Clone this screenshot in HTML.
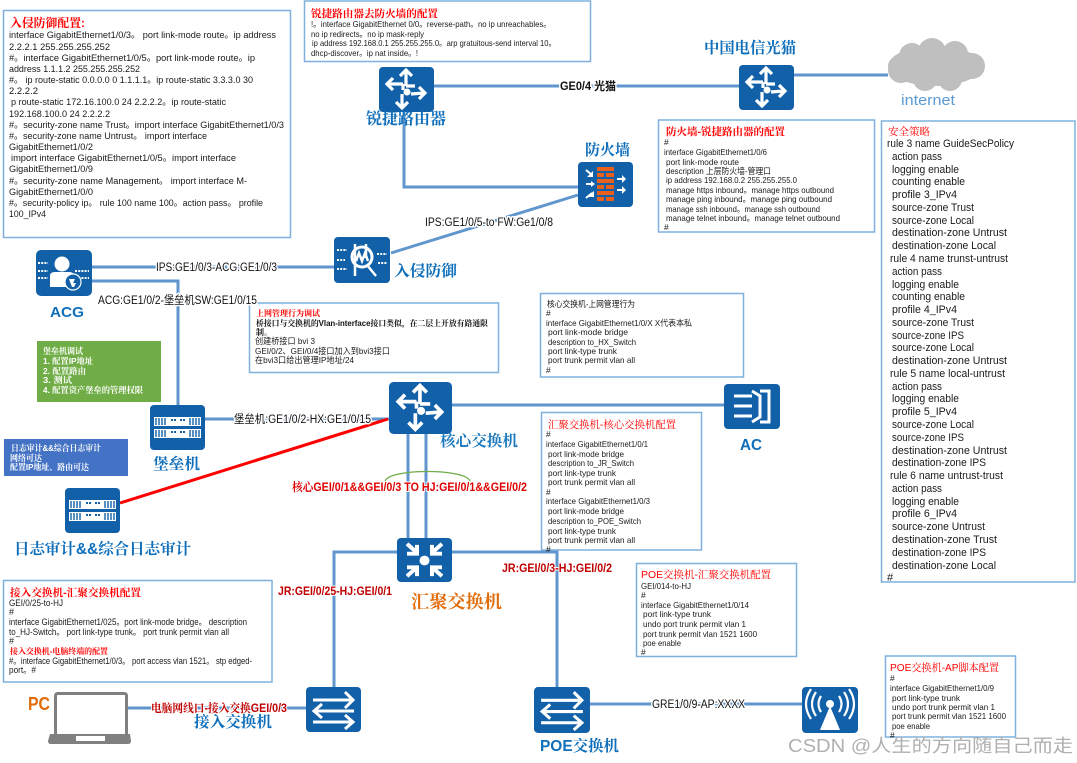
<!DOCTYPE html>
<html><head><meta charset="utf-8"><style>
html,body{margin:0;padding:0;background:#fff;width:1077px;height:763px;overflow:hidden}
svg{display:block;font-family:"Liberation Sans","Noto Sans CJK SC",sans-serif}
.c{font-size:9.5px;fill:#1a1a1a}
.p{font-size:11px;fill:#1a1a1a}
.t{font-family:"Liberation Sans","Noto Serif CJK SC",serif;font-weight:700;fill:#f00;font-size:10.5px}
.n{font-family:"Liberation Sans","Noto Serif CJK SC",serif;font-weight:700;fill:#0f6fbb;font-size:15.5px}
.l{font-size:11.5px;fill:#111;paint-order:stroke;stroke:#fff;stroke-width:3px}
.r{font-size:11.5px;font-weight:700;fill:#c00000;paint-order:stroke;stroke:#fff;stroke-width:2px;font-family:"Liberation Sans","Noto Serif CJK SC",serif}
.b{fill:#fff;stroke:#7fb0de;stroke-width:1.5}
.w{font-size:8.5px;font-weight:700;fill:#fff;font-family:"Liberation Sans","Noto Serif CJK SC",serif}
</style></head><body>
<svg width="1077" height="763" viewBox="0 0 1077 763" xmlns="http://www.w3.org/2000/svg">
<defs>
<symbol id="router" viewBox="0 0 55 45" preserveAspectRatio="none"><rect width="55" height="45" rx="4" fill="#1160a8"/><g fill="none" stroke="#fff" stroke-width="3.2"><path d="M27 19V4M21 9l6-6 6 6M24 17H10M14 11l-6 6 6 6M32 27l13-1M40 20l6 6-6 6M23 27v13M17 35l6 6 6-6"/><path d="M24 17v6M27 19h9" /></g><circle cx="28" cy="25" r="3.5" fill="#fff"/></symbol>
<symbol id="sw" viewBox="0 0 55 45" preserveAspectRatio="none"><rect width="55" height="45" rx="4" fill="#1160a8"/><g fill="none" stroke="#fff" stroke-width="3"><path d="M7 13H47M39 5l8 8-8 8M48 24H9M16 17l-8 7 8 7M7 35H47M39 28l8 7-8 7"/></g></symbol>
<symbol id="hj" viewBox="0 0 55 45" preserveAspectRatio="none"><rect width="55" height="45" rx="4" fill="#1160a8"/><circle cx="27.500" cy="23" r="5" fill="#fff"/><g fill="none" stroke="#fff" stroke-width="4"><path d="M10 6l10 9M20 7v9H10M45 6l-10 9M35 7v9h10M10 39l10-9M10 30h10v9M45 39l-10-9M45 30H35v9"/></g></symbol>
<symbol id="srv" viewBox="0 0 55 45" preserveAspectRatio="none"><rect width="55" height="45" rx="4" fill="#1160a8"/><rect x="4" y="12" width="47" height="9" fill="#fff"/><rect x="4" y="24" width="47" height="9" fill="#fff"/><path d="M6 13v7M9 13v7M12 13v7M15 13v7M40 13v7M43 13v7M46 13v7M49 13v7M6 25v7M9 25v7M12 25v7M15 25v7M40 25v7M43 25v7M46 25v7M49 25v7" stroke="#1160a8" stroke-width="1.4"/><path d="M21 15h5M30 15h5M21 27h5M30 27h5" stroke="#1160a8" stroke-width="2" stroke-dasharray="2 1"/></symbol>
</defs>

<!-- connectors -->
<g fill="none" stroke="#5f96cd" stroke-width="3">
<path d="M434 86H739"/>
<path d="M404 112V187H578"/>
<path d="M391 253L578 195"/>
<path d="M92 267H334"/>
<path d="M92 281H178V405"/>
<path d="M205 419H390"/>
<path d="M452 405H724"/>
<path d="M408 434V538M426 434V538"/>
<path d="M397 552H334V687"/>
<path d="M452 552H557V687"/>
<path d="M127 708H306"/>
<path d="M590 704H802"/>
<path d="M794 75H888"/>
</g>
<path d="M120 503L388 419" stroke="#f00" stroke-width="3" fill="none"/>
<path d="M385 482C385 468 470 468 470 482" stroke="#70ad47" stroke-width="1.3" fill="none"/>

<!-- boxes -->
<rect class="b" x="3.500" y="10.500" width="287" height="227"/>
<rect class="b" x="304.500" y="1" width="286" height="60.500"/>
<rect class="b" x="658.500" y="120" width="216" height="112"/>
<rect class="b" x="881.500" y="121" width="193.500" height="461"/>
<rect class="b" x="249.500" y="303" width="249" height="69.500"/>
<rect class="b" x="540.500" y="293.500" width="203" height="83.500"/>
<rect class="b" x="541.500" y="412.500" width="160" height="137.500"/>
<rect class="b" x="636.500" y="563.500" width="160" height="93"/>
<rect class="b" x="3.500" y="580.500" width="268.500" height="101.500"/>
<rect class="b" x="885.500" y="656" width="130" height="81"/>
<rect x="37" y="341" width="124" height="61" fill="#70ad47"/>
<rect x="4" y="439" width="124" height="37" fill="#4472c4"/>

<!-- icons -->
<use href="#router" x="379" y="67" width="55" height="45"/>
<use href="#router" x="739" y="65" width="55" height="45"/>
<use href="#router" x="389" y="382" width="63" height="52"/>
<use href="#hj" x="397" y="538" width="55" height="44"/>
<use href="#sw" x="306" y="687" width="55" height="45"/>
<use href="#sw" x="534" y="687" width="56" height="46"/>
<use href="#srv" x="150" y="405" width="55" height="45"/>
<use href="#srv" x="65" y="488" width="55" height="45"/>

<!-- firewall -->
<g transform="translate(578,162)"><rect width="55" height="45" rx="4" fill="#1160a8"/>
<g fill="#e8601c"><rect x="19" y="5" width="17" height="4"/><rect x="19" y="11" width="7" height="4"/><rect x="28" y="11" width="8" height="4"/><rect x="19" y="17" width="17" height="4"/><rect x="19" y="23" width="7" height="4"/><rect x="28" y="23" width="8" height="4"/><rect x="19" y="29" width="17" height="4"/><rect x="19" y="35" width="7" height="4"/><rect x="28" y="35" width="8" height="4"/></g>
<g stroke="#fff" stroke-width="2" fill="none"><path d="M8 8l6 5M8 22h6M8 36l6-5M39 17h7M39 28h7"/></g>
<g fill="#fff"><path d="M15 9v6h-6zM13 19l4 3-4 3zM16 35h-6v-1l6-5zM44 13l4 4-4 4zM44 24l4 4-4 4z"/></g></g>

<!-- IPS -->
<g transform="translate(334,237)"><rect width="56" height="46" rx="4" fill="#1160a8"/>
<path d="M3 13h10M3 23h8M3 32h10M43 17h10M44 26h9" stroke="#fff" stroke-width="2" stroke-dasharray="2 1.200"/>
<circle cx="28" cy="20" r="10" fill="none" stroke="#fff" stroke-width="3"/>
<path d="M21 7v32M32 7v14M22 24l3-8 3 8 3-8 3 8M33 28l9 11" stroke="#fff" stroke-width="2.500" fill="none"/></g>

<!-- ACG -->
<g transform="translate(36,250)"><rect width="56" height="46" rx="5" fill="#1160a8"/>
<path d="M2 13h10M2 21h10M2 28h10M39 21h14M39 28h14" stroke="#fff" stroke-width="2" stroke-dasharray="2 1.200"/>
<circle cx="26" cy="14" r="7.500" fill="#fff"/><path d="M14 37V26q0-4 5-4h14q5 0 5 4v11z" fill="#fff"/>
<circle cx="37" cy="32" r="8" fill="#1160a8" stroke="#fff" stroke-width="1.200"/><path d="M33 29h6l-2 4h3l-2 4h-2z" fill="#fff"/></g>

<!-- AC -->
<g transform="translate(724,384)"><rect width="56" height="45" rx="4" fill="#1160a8"/>
<g fill="none" stroke="#fff" stroke-width="3"><path d="M10 12H28M10 22H28M10 32H28M28 7l8 5v21l-8 5M36 7H45V38H36"/></g></g>

<!-- AP -->
<g transform="translate(802,687)"><rect width="56" height="46" rx="4" fill="#1160a8"/>
<circle cx="28" cy="17" r="4" fill="#fff"/><path d="M28 19l-10 24H38z" fill="#fff"/>
<g fill="none" stroke="#fff" stroke-width="2.200"><path d="M19 9q-5 8 0 16M37 9q5 8 0 16M14 5q-8 12 0 24M42 5q8 12 0 24M9 2q-10 15 0 30M47 2q10 15 0 30"/></g></g>

<!-- laptop -->
<rect x="55.500" y="693.500" width="71" height="42" rx="2" fill="#fff" stroke="#808080" stroke-width="3"/>
<path d="M50 734H130L131 741Q131 744 128 744H51Q48 744 48 741Z" fill="#808080"/><rect x="76" y="736" width="29" height="5" fill="#fff"/>

<!-- cloud -->
<g fill="#bfbfbf"><ellipse cx="935" cy="66" rx="47" ry="20"/><circle cx="912" cy="56" r="13"/><circle cx="932" cy="52" r="14"/><circle cx="955" cy="54" r="13"/><circle cx="972" cy="66" r="13"/><circle cx="901" cy="70" r="13"/><circle cx="925" cy="79" r="12"/><circle cx="950" cy="79" r="12"/></g>
<text x="901" y="105" font-size="14.500" fill="#5b9bd5" textLength="54" lengthAdjust="spacingAndGlyphs">internet</text>

<!-- box 1 -->
<text class="t" x="10" y="27" textLength="75" lengthAdjust="spacingAndGlyphs" style="font-size:12px">入侵防御配置:</text>
<g class="c">
<text x="9" y="38" textLength="267" lengthAdjust="spacingAndGlyphs">interface GigabitEthernet1/0/3。 port link-mode route。ip address</text>
<text x="9" y="50" textLength="101" lengthAdjust="spacingAndGlyphs">2.2.2.1 255.255.255.252</text>
<text x="9" y="61" textLength="246" lengthAdjust="spacingAndGlyphs">#。interface GigabitEthernet1/0/5。port link-mode route。ip</text>
<text x="9" y="72" textLength="131" lengthAdjust="spacingAndGlyphs">address 1.1.1.2 255.255.255.252</text>
<text x="9" y="83" textLength="244" lengthAdjust="spacingAndGlyphs">#。 ip route-static 0.0.0.0 0 1.1.1.1。ip route-static 3.3.3.0 30</text>
<text x="9" y="94" textLength="29" lengthAdjust="spacingAndGlyphs">2.2.2.2</text>
<text x="11" y="105" textLength="215" lengthAdjust="spacingAndGlyphs">p route-static 172.16.100.0 24 2.2.2.2。ip route-static</text>
<text x="9" y="117" textLength="101" lengthAdjust="spacingAndGlyphs">192.168.100.0 24 2.2.2.2</text>
<text x="9" y="128" textLength="275" lengthAdjust="spacingAndGlyphs">#。security-zone name Trust。import interface GigabitEthernet1/0/3</text>
<text x="9" y="139" textLength="198" lengthAdjust="spacingAndGlyphs">#。security-zone name Untrust。 import interface</text>
<text x="9" y="150" textLength="84" lengthAdjust="spacingAndGlyphs">GigabitEthernet1/0/2</text>
<text x="11" y="161" textLength="225" lengthAdjust="spacingAndGlyphs">import interface GigabitEthernet1/0/5。import interface</text>
<text x="9" y="172" textLength="84" lengthAdjust="spacingAndGlyphs">GigabitEthernet1/0/9</text>
<text x="9" y="184" textLength="238" lengthAdjust="spacingAndGlyphs">#。security-zone name Management。 import interface M-</text>
<text x="9" y="195" textLength="84" lengthAdjust="spacingAndGlyphs">GigabitEthernet1/0/0</text>
<text x="9" y="206" textLength="254" lengthAdjust="spacingAndGlyphs">#。security-policy ip。 rule 100 name 100。action pass。 profile</text>
<text x="9" y="217" textLength="37" lengthAdjust="spacingAndGlyphs">100_IPv4</text>
</g>

<!-- box 2 -->
<text class="t" x="311" y="17" textLength="127" lengthAdjust="spacingAndGlyphs">锐捷路由器去防火墙的配置</text>
<g class="c" style="font-size:8.500px">
<text x="311" y="27" textLength="240" lengthAdjust="spacingAndGlyphs">!。interface GigabitEthernet 0/0。reverse-path。no ip unreachables。</text>
<text x="311" y="37" textLength="113" lengthAdjust="spacingAndGlyphs">no ip redirects。no ip mask-reply</text>
<text x="312" y="46" textLength="244" lengthAdjust="spacingAndGlyphs">ip address 192.168.0.1 255.255.255.0。arp gratuitous-send interval 10。</text>
<text x="311" y="56" textLength="107" lengthAdjust="spacingAndGlyphs">dhcp-discover。ip nat inside。!</text>
</g>

<!-- FW box -->
<text class="t" x="666" y="135" textLength="119" lengthAdjust="spacingAndGlyphs">防火墙-锐捷路由器的配置</text>
<g class="c" style="font-size:8.500px">
<text x="664" y="145">#</text>
<text x="664" y="155" textLength="103" lengthAdjust="spacingAndGlyphs">interface GigabitEthernet1/0/6</text>
<text x="666" y="165" textLength="73" lengthAdjust="spacingAndGlyphs">port link-mode route</text>
<text x="666" y="174" textLength="105" lengthAdjust="spacingAndGlyphs">description 上层防火墙-管理口</text>
<text x="666" y="183" textLength="131" lengthAdjust="spacingAndGlyphs">ip address 192.168.0.2 255.255.255.0</text>
<text x="666" y="193" textLength="168" lengthAdjust="spacingAndGlyphs">manage https inbound。manage https outbound</text>
<text x="666" y="202" textLength="166" lengthAdjust="spacingAndGlyphs">manage ping inbound。manage ping outbound</text>
<text x="666" y="212" textLength="154" lengthAdjust="spacingAndGlyphs">manage ssh inbound。manage ssh outbound</text>
<text x="666" y="221" textLength="174" lengthAdjust="spacingAndGlyphs">manage telnet inbound。manage telnet outbound</text>
<text x="664" y="230">#</text>
</g>

<!-- policy -->
<text class="t" x="888" y="135" textLength="42" lengthAdjust="spacingAndGlyphs" style="font-weight:400">安全策略</text>
<g class="p">
<text x="887" y="147" textLength="127" lengthAdjust="spacingAndGlyphs">rule 3 name GuideSecPolicy</text>
<text x="892" y="160" textLength="50" lengthAdjust="spacingAndGlyphs">action pass</text>
<text x="892" y="173" textLength="67" lengthAdjust="spacingAndGlyphs">logging enable</text>
<text x="892" y="185" textLength="73" lengthAdjust="spacingAndGlyphs">counting enable</text>
<text x="892" y="198" textLength="65" lengthAdjust="spacingAndGlyphs">profile 3_IPv4</text>
<text x="892" y="211" textLength="82" lengthAdjust="spacingAndGlyphs">source-zone Trust</text>
<text x="892" y="224" textLength="82" lengthAdjust="spacingAndGlyphs">source-zone Local</text>
<text x="892" y="236" textLength="115" lengthAdjust="spacingAndGlyphs">destination-zone Untrust</text>
<text x="892" y="249" textLength="104" lengthAdjust="spacingAndGlyphs">destination-zone Local</text>
<text x="890" y="262" textLength="118" lengthAdjust="spacingAndGlyphs">rule 4 name trunst-untrust</text>
<text x="892" y="275" textLength="50" lengthAdjust="spacingAndGlyphs">action pass</text>
<text x="892" y="288" textLength="67" lengthAdjust="spacingAndGlyphs">logging enable</text>
<text x="892" y="300" textLength="73" lengthAdjust="spacingAndGlyphs">counting enable</text>
<text x="892" y="313" textLength="65" lengthAdjust="spacingAndGlyphs">profile 4_IPv4</text>
<text x="892" y="326" textLength="82" lengthAdjust="spacingAndGlyphs">source-zone Trust</text>
<text x="892" y="339" textLength="72" lengthAdjust="spacingAndGlyphs">source-zone IPS</text>
<text x="892" y="351" textLength="82" lengthAdjust="spacingAndGlyphs">source-zone Local</text>
<text x="892" y="364" textLength="115" lengthAdjust="spacingAndGlyphs">destination-zone Untrust</text>
<text x="890" y="377" textLength="115" lengthAdjust="spacingAndGlyphs">rule 5 name local-untrust</text>
<text x="892" y="390" textLength="50" lengthAdjust="spacingAndGlyphs">action pass</text>
<text x="892" y="402" textLength="67" lengthAdjust="spacingAndGlyphs">logging enable</text>
<text x="892" y="415" textLength="65" lengthAdjust="spacingAndGlyphs">profile 5_IPv4</text>
<text x="892" y="428" textLength="82" lengthAdjust="spacingAndGlyphs">source-zone Local</text>
<text x="892" y="441" textLength="72" lengthAdjust="spacingAndGlyphs">source-zone IPS</text>
<text x="892" y="454" textLength="115" lengthAdjust="spacingAndGlyphs">destination-zone Untrust</text>
<text x="892" y="466" textLength="94" lengthAdjust="spacingAndGlyphs">destination-zone IPS</text>
<text x="890" y="479" textLength="113" lengthAdjust="spacingAndGlyphs">rule 6 name untrust-trust</text>
<text x="892" y="492" textLength="50" lengthAdjust="spacingAndGlyphs">action pass</text>
<text x="892" y="505" textLength="67" lengthAdjust="spacingAndGlyphs">logging enable</text>
<text x="892" y="517" textLength="65" lengthAdjust="spacingAndGlyphs">profile 6_IPv4</text>
<text x="892" y="530" textLength="93" lengthAdjust="spacingAndGlyphs">source-zone Untrust</text>
<text x="892" y="543" textLength="105" lengthAdjust="spacingAndGlyphs">destination-zone Trust</text>
<text x="892" y="556" textLength="94" lengthAdjust="spacingAndGlyphs">destination-zone IPS</text>
<text x="892" y="569" textLength="104" lengthAdjust="spacingAndGlyphs">destination-zone Local</text>
<text x="887" y="581">#</text>
</g>

<!-- 上网管理 -->
<text class="t" x="256" y="316" textLength="64" lengthAdjust="spacingAndGlyphs" style="font-size:8px">上网管理行为调试</text>
<text x="256" y="326" font-size="8" font-weight="700" fill="#111" textLength="232" lengthAdjust="spacingAndGlyphs" font-family="Liberation Sans,Noto Serif CJK SC,serif">桥接口与交换机的Vlan-interface接口类似，在二层上开放有路通限</text>
<text x="256" y="335" font-size="8" font-weight="700" fill="#111" font-family="Liberation Sans,Noto Serif CJK SC,serif">制。</text>
<g class="c" style="font-size:8.500px">
<text x="255" y="344" textLength="60" lengthAdjust="spacingAndGlyphs">创建桥接口 bvi 3</text>
<text x="255" y="354" textLength="135" lengthAdjust="spacingAndGlyphs">GEI/0/2、GEI/0/4接口加入到bvi3接口</text>
<text x="255" y="363" textLength="99" lengthAdjust="spacingAndGlyphs">在bvi3口给出管理IP地址/24</text>
</g>

<!-- 核心 -->
<g class="c" style="font-size:8.500px">
<text x="547" y="307" textLength="88" lengthAdjust="spacingAndGlyphs">核心交换机-上网管理行为</text>
<text x="546" y="316">#</text>
<text x="546" y="326" textLength="146" lengthAdjust="spacingAndGlyphs">interface GigabitEthernet1/0/X X代表本私</text>
<text x="548" y="335" textLength="80" lengthAdjust="spacingAndGlyphs">port link-mode bridge</text>
<text x="548" y="345" textLength="88" lengthAdjust="spacingAndGlyphs">description to_HX_Switch</text>
<text x="548" y="354" textLength="69" lengthAdjust="spacingAndGlyphs">port link-type trunk</text>
<text x="548" y="363" textLength="87" lengthAdjust="spacingAndGlyphs">port trunk permit vlan all</text>
<text x="546" y="373">#</text>
</g>

<!-- 汇聚 -->
<text class="t" x="548" y="428" textLength="128" lengthAdjust="spacingAndGlyphs" style="font-weight:400">汇聚交换机-核心交换机配置</text>
<g class="c" style="font-size:8.500px">
<text x="546" y="437">#</text>
<text x="546" y="447" textLength="102" lengthAdjust="spacingAndGlyphs">interface GigabitEthernet1/0/1</text>
<text x="548" y="457" textLength="76" lengthAdjust="spacingAndGlyphs">port link-mode bridge</text>
<text x="548" y="466" textLength="86" lengthAdjust="spacingAndGlyphs">description to_JR_Switch</text>
<text x="548" y="476" textLength="68" lengthAdjust="spacingAndGlyphs">port link-type trunk</text>
<text x="548" y="485" textLength="87" lengthAdjust="spacingAndGlyphs">port trunk permit vlan all</text>
<text x="546" y="495">#</text>
<text x="546" y="504" textLength="104" lengthAdjust="spacingAndGlyphs">interface GigabitEthernet1/0/3</text>
<text x="548" y="514" textLength="76" lengthAdjust="spacingAndGlyphs">port link-mode bridge</text>
<text x="548" y="524" textLength="93" lengthAdjust="spacingAndGlyphs">description to_POE_Switch</text>
<text x="548" y="534" textLength="68" lengthAdjust="spacingAndGlyphs">port link-type trunk</text>
<text x="548" y="543" textLength="87" lengthAdjust="spacingAndGlyphs">port trunk permit vlan all</text>
<text x="546" y="552">#</text>
</g>

<!-- POE box -->
<text class="t" x="641" y="578" textLength="130" lengthAdjust="spacingAndGlyphs" style="font-weight:400">POE交换机-汇聚交换机配置</text>
<g class="c" style="font-size:8.500px">
<text x="641" y="589" textLength="50" lengthAdjust="spacingAndGlyphs">GEI/014-to-HJ</text>
<text x="641" y="598">#</text>
<text x="641" y="608" textLength="108" lengthAdjust="spacingAndGlyphs">interface GigabitEthernet1/0/14</text>
<text x="643" y="617" textLength="68" lengthAdjust="spacingAndGlyphs">port link-type trunk</text>
<text x="643" y="627" textLength="103" lengthAdjust="spacingAndGlyphs">undo port trunk permit vlan 1</text>
<text x="643" y="637" textLength="114" lengthAdjust="spacingAndGlyphs">port trunk permit vlan 1521 1600</text>
<text x="643" y="646" textLength="38" lengthAdjust="spacingAndGlyphs">poe enable</text>
<text x="641" y="655">#</text>
</g>

<!-- 接入 box -->
<text class="t" x="10" y="596" textLength="131" lengthAdjust="spacingAndGlyphs">接入交换机-汇聚交换机配置</text>
<g class="c" style="font-size:9px">
<text x="9" y="606" textLength="54" lengthAdjust="spacingAndGlyphs">GEI/0/25-to-HJ</text>
<text x="9" y="615">#</text>
<text x="9" y="625" textLength="238" lengthAdjust="spacingAndGlyphs">interface GigabitEthernet1/025。port link-mode bridge。 description</text>
<text x="9" y="635" textLength="220" lengthAdjust="spacingAndGlyphs">to_HJ-Switch。 port link-type trunk。 port trunk permit vlan all</text>
<text x="9" y="644">#</text>
</g>
<text class="t" x="10" y="654" textLength="98" lengthAdjust="spacingAndGlyphs" style="font-size:8px">接入交换机-电脑终端的配置</text>
<g class="c" style="font-size:9px">
<text x="9" y="664" textLength="243" lengthAdjust="spacingAndGlyphs">#。interface GigabitEthernet1/0/3。 port access vlan 1521。 stp edged-</text>
<text x="9" y="673" textLength="27" lengthAdjust="spacingAndGlyphs">port。#</text>
</g>

<!-- AP box -->
<text class="t" x="890" y="671" textLength="109" lengthAdjust="spacingAndGlyphs" style="font-weight:400">POE交换机-AP脚本配置</text>
<g class="c" style="font-size:8.500px">
<text x="890" y="681">#</text>
<text x="890" y="691" textLength="104" lengthAdjust="spacingAndGlyphs">interface GigabitEthernet1/0/9</text>
<text x="892" y="701" textLength="68" lengthAdjust="spacingAndGlyphs">port link-type trunk</text>
<text x="892" y="710" textLength="103" lengthAdjust="spacingAndGlyphs">undo port trunk permit vlan 1</text>
<text x="892" y="719" textLength="114" lengthAdjust="spacingAndGlyphs">port trunk permit vlan 1521 1600</text>
<text x="892" y="729" textLength="38" lengthAdjust="spacingAndGlyphs">poe enable</text>
<text x="890" y="738">#</text>
</g>

<!-- coloured notes -->
<g class="w">
<text x="43" y="354" textLength="40" lengthAdjust="spacingAndGlyphs">堡垒机调试</text>
<text x="43" y="364" textLength="50" lengthAdjust="spacingAndGlyphs">1. 配置IP地址</text>
<text x="43" y="374" textLength="43" lengthAdjust="spacingAndGlyphs">2. 配置路由</text>
<text x="43" y="383" textLength="29" lengthAdjust="spacingAndGlyphs">3. 测试</text>
<text x="43" y="393" textLength="100" lengthAdjust="spacingAndGlyphs">4. 配置资产堡垒的管理权限</text>
<text x="11" y="451" textLength="90" lengthAdjust="spacingAndGlyphs">日志审计&amp;&amp;综合日志审计</text>
<text x="10" y="461" textLength="32" lengthAdjust="spacingAndGlyphs">网络可达</text>
<text x="10" y="470" textLength="79" lengthAdjust="spacingAndGlyphs">配置IP地址、路由可达</text>
</g>

<!-- link labels -->
<text class="l" x="156" y="271" textLength="121" lengthAdjust="spacingAndGlyphs">IPS:GE1/0/3-ACG:GE1/0/3</text>
<text class="l" x="98" y="304" textLength="159" lengthAdjust="spacingAndGlyphs">ACG:GE1/0/2-堡垒机SW:GE1/0/15</text>
<text class="l" x="425" y="226" textLength="128" lengthAdjust="spacingAndGlyphs">IPS:GE1/0/5-to FW:Ge1/0/8</text>
<text class="l" x="234" y="423" textLength="137" lengthAdjust="spacingAndGlyphs">堡垒机:GE1/0/2-HX:GE1/0/15</text>
<text class="l" x="560" y="90" textLength="56" lengthAdjust="spacingAndGlyphs" style="font-weight:700">GE0/4 光猫</text>
<text class="l" x="652" y="708" textLength="93" lengthAdjust="spacingAndGlyphs">GRE1/0/9-AP:XXXX</text>
<text class="r" x="292" y="491" textLength="235" lengthAdjust="spacingAndGlyphs" style="fill:#e00000">核心GEI/0/1&amp;&amp;GEI/0/3 TO HJ:GEI/0/1&amp;&amp;GEI/0/2</text>
<text class="r" x="278" y="595" textLength="114" lengthAdjust="spacingAndGlyphs">JR:GEI/0/25-HJ:GEI/0/1</text>
<text class="r" x="502" y="572" textLength="110" lengthAdjust="spacingAndGlyphs">JR:GEI/0/3-HJ:GEI/0/2</text>
<text class="r" x="151" y="712" textLength="136" lengthAdjust="spacingAndGlyphs">电脑网线口-接入交换GEI/0/3</text>

<!-- node labels -->
<text class="n" x="366" y="124" textLength="80" lengthAdjust="spacingAndGlyphs" style="font-size:16px">锐捷路由器</text>
<text class="n" x="585" y="155" textLength="45" lengthAdjust="spacingAndGlyphs">防火墙</text>
<text class="n" x="704" y="53" textLength="92" lengthAdjust="spacingAndGlyphs">中国电信光猫</text>
<text class="n" x="394" y="276" textLength="63" lengthAdjust="spacingAndGlyphs">入侵防御</text>
<text class="n" x="50" y="317" textLength="34" lengthAdjust="spacingAndGlyphs" style="font-size:15px">ACG</text>
<text class="n" x="153" y="469" textLength="47" lengthAdjust="spacingAndGlyphs">堡垒机</text>
<text class="n" x="440" y="446" textLength="78" lengthAdjust="spacingAndGlyphs" style="fill:#1a78bc">核心交换机</text>
<text x="740" y="450" font-size="16" font-weight="700" fill="#0f6fbb" textLength="22" lengthAdjust="spacingAndGlyphs">AC</text>
<text class="n" x="14" y="554" textLength="177" lengthAdjust="spacingAndGlyphs">日志审计&amp;&amp;综合日志审计</text>
<text class="n" x="411" y="608" textLength="91" lengthAdjust="spacingAndGlyphs" style="fill:#e36c0a;font-size:18px">汇聚交换机</text>
<text class="n" x="194" y="727" textLength="78" lengthAdjust="spacingAndGlyphs">接入交换机</text>
<text class="n" x="540" y="751" textLength="79" lengthAdjust="spacingAndGlyphs">POE交换机</text>
<text x="28" y="710" font-size="18" font-weight="700" fill="#e36c0a" textLength="22" lengthAdjust="spacingAndGlyphs">PC</text>

<!-- watermark -->
<text x="788" y="752" font-size="18" fill="#b0b0b0" textLength="285" lengthAdjust="spacingAndGlyphs">CSDN @人生的方向随自己而走</text>
</svg>
</body></html>
